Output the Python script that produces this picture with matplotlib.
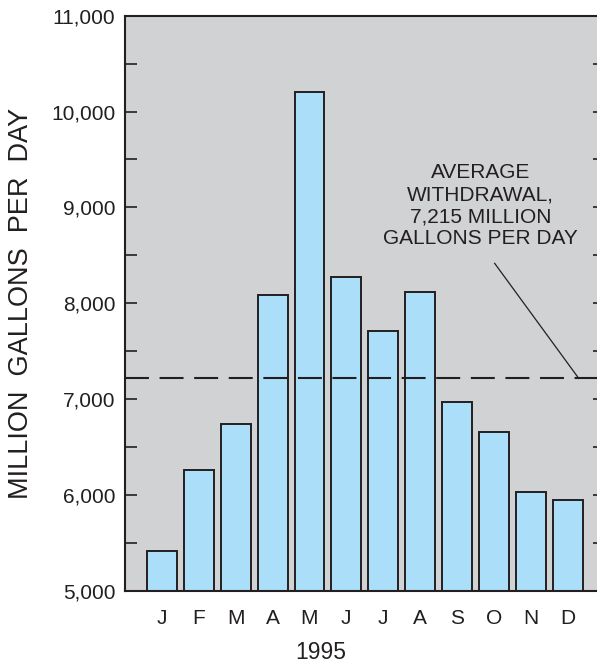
import matplotlib
matplotlib.use("Agg")
import matplotlib.pyplot as plt
from matplotlib.ticker import MultipleLocator, FuncFormatter

months = ["J", "F", "M", "A", "M", "J", "J", "A", "S", "O", "N", "D"]
withdrawal = [5417, 6260, 6740, 8086, 10204, 8277, 7710, 8117, 6966, 6656, 6027, 5946]
average = 7215
yticks = [5000, 6000, 7000, 8000, 9000, 10000, 11000]

ink = "#231f20"
plt.rcParams["font.family"] = ["Liberation Sans", "DejaVu Sans"]

fig = plt.figure(figsize=(5.97, 6.68), dpi=100)
W, H = 597, 668
ax = fig.add_axes([125 / W, 1 - 590.7 / H, (604.6 - 125) / W, (590.7 - 15.7) / H])
ax.set_facecolor("#d1d2d4")

x = range(len(months))
ax.bar(x, [v - 5000 for v in withdrawal], bottom=5000, width=0.81,
       color="#abdff9", edgecolor=ink, linewidth=1.4, zorder=2)

ax.axhline(average, color=ink, lw=1.5, dashes=(11.5, 5.1), zorder=3)

ax.text(8.63, 9460, "AVERAGE\nWITHDRAWAL,\n7,215 MILLION\nGALLONS PER DAY",
        ha="center", va="top", fontsize=15, color=ink, linespacing=1.2)
ax.plot([9.02, 11.30], [8416, average], color=ink, lw=0.9, zorder=3)

ax.set_xlim(-1, 12)
ax.set_ylim(5000, 11000)
ax.set_xticks(list(x))
ax.set_xticklabels(months)
ax.set_yticks(yticks)
ax.yaxis.set_minor_locator(MultipleLocator(500))
ax.yaxis.set_major_formatter(FuncFormatter(lambda v, p: f"{int(v):,}"))

ax.tick_params(axis="x", length=0, pad=13, labelsize=15, colors=ink)
ax.tick_params(axis="y", which="both", direction="in", length=8.4, width=1.2,
               left=True, right=True, pad=7, labelsize=15, colors=ink)

for s in ax.spines.values():
    s.set_linewidth(1.5)
    s.set_color(ink)

ax.set_xlabel("1995", fontsize=16.5, color=ink)
ax.xaxis.set_label_coords((321 - 125) / (604.6 - 125), -0.087)
ax.set_ylabel("MILLION  GALLONS  PER  DAY", fontsize=19.5, color=ink)
ax.yaxis.set_label_coords(-(125 - 34) / (604.6 - 125), 0.5)

fig.savefig("out.png", dpi=100)
